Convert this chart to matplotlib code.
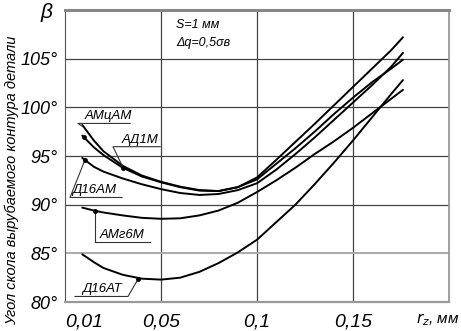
import matplotlib
matplotlib.use('Agg')
import matplotlib.pyplot as plt
import numpy as np

plt.rcParams['font.family'] = ['Liberation Sans Narrow', 'Liberation Sans', 'DejaVu Sans']
plt.rcParams['font.style'] = 'italic'
plt.rcParams['mathtext.fontset'] = 'custom'
plt.rcParams['mathtext.it'] = 'Liberation Sans Narrow:italic'
plt.rcParams['mathtext.rm'] = 'Liberation Sans Narrow:italic'

# данные
r = [0.009, 0.015, 0.02, 0.03, 0.04, 0.05, 0.06, 0.07, 0.08, 0.09,
     0.10, 0.11, 0.12, 0.13, 0.14, 0.15, 0.16, 0.17, 0.176]
amcam = [98.2, 96.6, 95.5, 94.0, 93.0, 92.35, 91.85, 91.5, 91.4, 91.8,
         92.8, 94.6, 96.45, 98.3, 100.2, 102.1, 104.0, 105.9, 107.2]
ad1m = [97.1, 95.9, 95.1, 93.8, 92.9, 92.3, 91.8, 91.45, 91.4, 91.8,
        92.6, 94.2, 95.8, 97.5, 99.3, 101.0, 102.6, 104.0, 104.9]
d16am = [94.8, 93.9, 93.4, 92.7, 92.1, 91.6, 91.2, 91.0, 91.1, 91.5,
         92.2, 93.6, 95.2, 96.9, 98.7, 100.5, 102.3, 104.2, 105.6]
amg6m = [89.7, 89.4, 89.2, 88.9, 88.65, 88.55, 88.6, 88.9, 89.4, 90.2,
         91.3, 92.5, 93.8, 95.2, 96.5, 97.9, 99.4, 100.9, 101.8]
d16at = [84.9, 84.1, 83.5, 82.8, 82.4, 82.3, 82.5, 83.1, 84.0, 85.1,
         86.4, 88.2, 90.0, 92.1, 94.3, 96.6, 99.0, 101.4, 102.8]

xticks = [0.01, 0.05, 0.1, 0.15]
xticklabels = ['0,01', '0,05', '0,1', '0,15']
yticks = [80, 85, 90, 95, 100, 105]
yticklabels = ['80°', '85°', '90°', '95°', '100°', '105°']

fig = plt.figure(figsize=(4.61, 3.31), dpi=100)
ax = fig.add_axes([0.141, 0.0876, 0.833, 0.882])

for y in [amcam, ad1m, d16am, amg6m, d16at]:
    ax.plot(r, y, color='black', lw=1.4, solid_capstyle='round', solid_joinstyle='round')

ax.set_xlim(0, 0.2)
ax.set_ylim(80, 110)

# сетка
for xv in [0.05, 0.1, 0.15]:
    ax.axvline(xv, color='#444444', lw=0.9, zorder=0)
for yv in [90, 95, 100, 105]:
    ax.axhline(yv, color='#444444', lw=0.9, zorder=0)
ax.axhline(85, color='#aaaaaa', lw=1.4, zorder=0)

ax.spines['top'].set_color('#888888')
ax.spines['top'].set_linewidth(2.2)
ax.spines['bottom'].set_color('#999999')
ax.spines['bottom'].set_linewidth(1.6)
ax.spines['left'].set_color('#555555')
ax.spines['right'].set_color('#999999')
ax.spines['right'].set_linewidth(1.3)

ax.set_xticks(xticks)
ax.set_xticklabels(xticklabels, fontsize=14)
ax.set_yticks(yticks)
ax.set_yticklabels(yticklabels, fontsize=13)
ax.tick_params(length=0)
ax.tick_params(axis='x', pad=8)
ax.tick_params(axis='y', pad=5)

# подписи кривых с выносками
def label(text, pts, tx, ty):
    xs = [p[0] for p in pts]
    ys = [p[1] for p in pts]
    ax.plot(xs, ys, color='#333333', lw=0.8)
    ax.text(tx, ty, text, fontsize=9.5, ha='left', va='bottom')

label('АМцАМ', [(0.0339, 98.35), (0.0068, 98.35), (0.0094, 98.0)], 0.0104, 98.45)
label('АД1М', [(0.0495, 95.96), (0.025, 95.96), (0.0304, 93.75)], 0.0297, 96.05)
label('Д16АМ', [(0.0297, 90.74), (0.0026, 90.74), (0.0104, 94.6)], 0.0036, 90.85)
label('АМг6М', [(0.0443, 86.17), (0.0156, 86.17), (0.0156, 89.4)], 0.0182, 86.27)
label('Д16АТ', [(0.0052, 80.57), (0.0328, 80.57), (0.038, 82.33)], 0.0089, 80.67)

for px, py in [(0.0099, 97.0), (0.0304, 93.75), (0.0104, 94.6), (0.0156, 89.4), (0.038, 82.33)]:
    ax.plot(px, py, 'o', color='black', ms=2.5)

ax.text(0.058, 108.5, 'S=1 мм', fontsize=9, va='center')
ax.text(0.058, 106.6, 'Δq=0,5σв', fontsize=9, va='center')

fig.text(46 / 461, 1 - 12 / 331, 'β', fontsize=15, ha='center', va='center')
fig.text(12 / 461, 0.455, 'Угол скола вырубаемого контура детали', fontsize=10.5,
         rotation=90, ha='center', va='center')
fig.text(438 / 461, 1 - 320 / 331, '$r_z$, мм', fontsize=11, ha='center', va='center')

plt.savefig('out.png', dpi=100)
